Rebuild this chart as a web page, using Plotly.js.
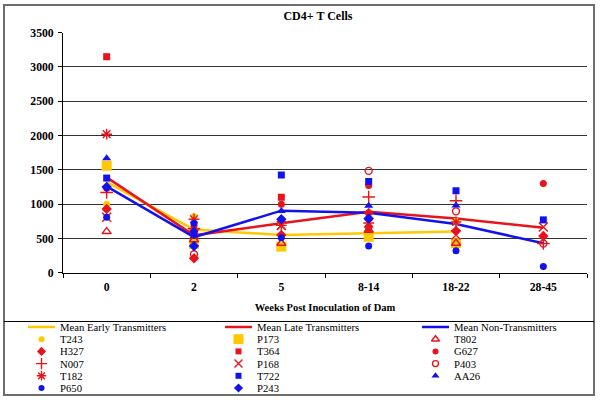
<!DOCTYPE html>
<html><head><meta charset="utf-8">
<script src="https://cdn.plot.ly/plotly-3.0.1.min.js"></script>
<style>html,body{margin:0;padding:0;background:#fff}#chart{width:600px;height:400px}</style>
</head><body><div id="chart"></div>
<script>
// ---- data ----
const categories = ['0', '2', '5', '8-14', '18-22', '28-45'];

const meanEarly = [1320, 630, 550, 580, 600, null];
const meanLate  = [1390, 545, 720, 890, 790, 655];
const meanNon   = [1260, 518, 905, 875, 710, 430];

const T243 = [1000, 820, 720, 635, 750, null];
const H327 = [930, 210, 550, 870, 610, 535];
const N007 = [1170, 640, null, 1105, 1050, 425];
const T182 = [2020, 780, 690, 725, 740, null];
const P650 = [810, 720, 510, 390, 320, 90];
const P173 = [1560, 420, 380, 525, 430, null];
const T364 = [3150, 600, 1100, 647, null, null];
const P168 = [810, 560, 690, 725, 550, 665];
const T722 = [1380, 560, 1425, 1330, 1195, 770];
const P243 = [1250, 390, 780, 790, null, null];
const T802 = [600, 480, 430, 620, 430, null];
const G627 = [1230, 680, 1000, 1270, null, 1300];
const P403 = [null, 270, null, 1485, 895, 425];
const AA26 = [1670, 620, 900, 975, 980, null];

const yTicks = [0, 500, 1000, 1500, 2000, 2500, 3000, 3500];

// ---- styles ----
const RED = '#E8141B', BLUE = '#1212EE', GOLD = '#FFC800';
const SERIF = '"Liberation Serif", "Times New Roman", Times, serif';

const lineSeries = [
  {name: 'Mean Early Transmitters', y: meanEarly, color: GOLD},
  {name: 'Mean Late Transmitters', y: meanLate, color: RED},
  {name: 'Mean Non-Transmitters', y: meanNon, color: BLUE}
];
const markerSeries = [
  {name: 'T243', y: T243, symbol: 'circle', color: GOLD, size: 7, lw: 0},
  {name: 'P173', y: P173, symbol: 'square', color: GOLD, size: 10, lw: 0},
  {name: 'T802', y: T802, symbol: 'triangle-up-open', color: RED, size: 8, lw: 1.4},
  {name: 'H327', y: H327, symbol: 'diamond', color: RED, size: 8, lw: 0},
  {name: 'T364', y: T364, symbol: 'square', color: RED, size: 7, lw: 0},
  {name: 'G627', y: G627, symbol: 'circle', color: RED, size: 7, lw: 0},
  {name: 'N007', y: N007, symbol: 'cross-thin', color: RED, size: 9, lw: 1.4},
  {name: 'P168', y: P168, symbol: 'x-thin', color: RED, size: 9, lw: 1.4},
  {name: 'P403', y: P403, symbol: 'circle-open', color: RED, size: 7, lw: 1.4},
  {name: 'T182', y: T182, symbol: 'asterisk', color: RED, size: 9, lw: 1.4},
  {name: 'T722', y: T722, symbol: 'square', color: BLUE, size: 7, lw: 0},
  {name: 'AA26', y: AA26, symbol: 'triangle-up', color: BLUE, size: 8, lw: 0},
  {name: 'P650', y: P650, symbol: 'circle', color: BLUE, size: 7, lw: 0},
  {name: 'P243', y: P243, symbol: 'diamond', color: BLUE, size: 8, lw: 0}
];

function mk(s, size) {
  return {symbol: s.symbol, size: size || s.size, color: s.color, line: {color: s.color, width: s.lw}};
}

const traces = [];
lineSeries.forEach(s => traces.push({
  type: 'scatter', mode: 'lines', x: categories, y: s.y, name: s.name,
  line: {color: s.color, width: 2.5}, connectgaps: false, showlegend: false,
  xaxis: 'x', yaxis: 'y', cliponaxis: false
}));
markerSeries.forEach(s => traces.push({
  type: 'scatter', mode: 'markers', x: categories, y: s.y, name: s.name,
  marker: mk(s), showlegend: false, xaxis: 'x', yaxis: 'y', cliponaxis: false
}));

// ---- hand-built legend (3 columns, row-major) on a pixel overlay axis ----
const legendItems = [].concat(lineSeries.map(s => ({kind: 'line', s})), markerSeries.map(s => ({kind: 'marker', s})));
const LEG = {x0: 28, colW: 197, y0: 327, rowH: 12.2, lineLen: 27, textDx: 30};
const annotations = [];
legendItems.forEach((it, i) => {
  const col = i % 3, row = Math.floor(i / 3);
  const lx = LEG.x0 + col * LEG.colW, ly = LEG.y0 + row * LEG.rowH;
  if (it.kind === 'line') {
    traces.push({type: 'scatter', mode: 'lines', x: [lx, lx + LEG.lineLen], y: [ly, ly],
      line: {color: it.s.color, width: 2.5}, showlegend: false, hoverinfo: 'skip',
      xaxis: 'x2', yaxis: 'y2', cliponaxis: false});
  } else {
    const sz = it.s.size === 10 ? 10 : Math.max(6, it.s.size - 1);
    traces.push({type: 'scatter', mode: 'markers', x: [lx + LEG.lineLen / 2], y: [ly],
      marker: mk(it.s, sz), showlegend: false, hoverinfo: 'skip',
      xaxis: 'x2', yaxis: 'y2', cliponaxis: false});
  }
  annotations.push({xref: 'x2', yref: 'y2', x: lx + LEG.textDx, y: ly, text: it.s.name,
    xanchor: 'left', yanchor: 'middle', showarrow: false,
    font: {family: SERIF, size: 10.7, color: '#000'}});
});

const layout = {
  width: 600, height: 400,
  margin: {l: 0, r: 0, t: 0, b: 0, pad: 0},
  paper_bgcolor: '#fff', plot_bgcolor: 'rgba(0,0,0,0)',
  showlegend: false,
  font: {family: SERIF, color: '#000'},
  title: {text: '<b>CD4+ T Cells</b>', x: 318 / 600, xref: 'container', xanchor: 'center',
    y: 1 - 16 / 400, yref: 'container', yanchor: 'middle',
    font: {family: SERIF, size: 12, color: '#000'}},
  xaxis: {
    domain: [63 / 600, 587 / 600], anchor: 'y', type: 'category',
    categoryorder: 'array', categoryarray: categories, range: [-0.5, categories.length - 0.5],
    showgrid: false, zeroline: false, showline: true, linecolor: '#000', linewidth: 1,
    ticks: 'outside', ticklen: 4, tickcolor: '#000', tickson: 'boundaries',
    ticklabelstandoff: 3,
    tickfont: {family: SERIF, size: 11.7, color: '#000', weight: 'bold'},
    title: {text: '<b>Weeks Post Inoculation of Dam</b>', standoff: 10,
      font: {family: SERIF, size: 10.5, color: '#000'}},
    automargin: false, fixedrange: true
  },
  yaxis: {
    domain: [(400 - 272.7) / 400, (400 - 32.7) / 400], anchor: 'x',
    range: [0, 3500], tickmode: 'array', tickvals: yTicks, ticktext: yTicks.map(String),
    showgrid: true, gridcolor: '#333', gridwidth: 1, zeroline: false,
    showline: true, linecolor: '#000', linewidth: 1,
    ticks: 'outside', ticklen: 4, tickcolor: '#000', ticklabelstandoff: 2,
    tickfont: {family: SERIF, size: 11.7, color: '#000', weight: 'bold'},
    automargin: false, fixedrange: true
  },
  xaxis2: {domain: [0, 1], anchor: 'y2', range: [0, 600], visible: false, fixedrange: true},
  yaxis2: {domain: [0, 1], anchor: 'x2', range: [400, 0], visible: false, fixedrange: true},
  shapes: [
    {type: 'rect', xref: 'x2', yref: 'y2', x0: 4, x1: 594, y0: 5, y1: 395,
      line: {color: '#6e6e6e', width: 2}, fillcolor: 'rgba(0,0,0,0)', layer: 'above'},
    {type: 'line', xref: 'x2', yref: 'y2', x0: 4, x1: 594, y0: 321.5, y1: 321.5,
      line: {color: '#000', width: 1}, layer: 'above'}
  ],
  annotations: annotations
};

Plotly.newPlot('chart', traces, layout, {staticPlot: true, displayModeBar: false});
</script>
</body></html>
